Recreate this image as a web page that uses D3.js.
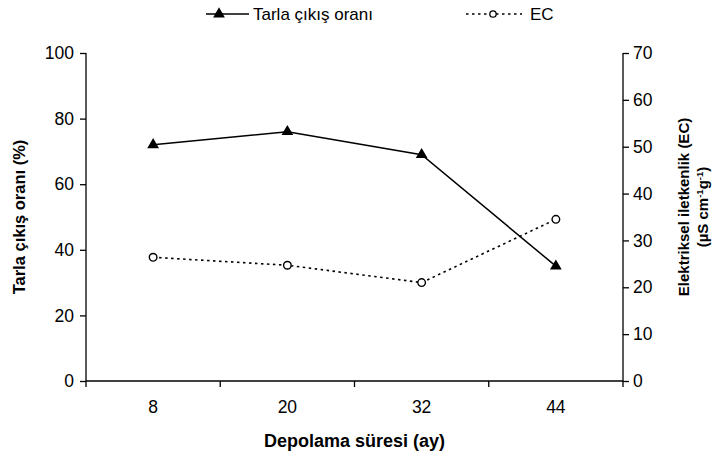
<!DOCTYPE html>
<html>
<head>
<meta charset="utf-8">
<script src="https://cdn.jsdelivr.net/npm/d3@7"></script>
<style>
  body { margin: 0; background: #fff; }
  svg { font-family: "Liberation Sans", Arial, sans-serif; }
  .axis path, .axis line { stroke: #000; stroke-width: 1.3; }
  .axis text { font-size: 17.5px; fill: #000; }
</style>
</head>
<body>
<svg id="chart" width="723" height="462"></svg>
<script>
// Storage time (months) and the two measured series
const categories = ["8", "20", "32", "44"];
const emergence = [72, 76, 69, 35];          // Tarla çıkış oranı (%)
const conductivity = [26.4, 24.7, 21, 34.5]; // EC (µS cm-1 g-1)
const leftTicks = [0, 20, 40, 60, 80, 100];
const rightTicks = [0, 10, 20, 30, 40, 50, 60, 70];

const svg = d3.select("#chart");
const margin = { left: 86, right: 100, top: 53, bottom: 81 };
const W = 723, H = 462;
const x0 = margin.left, x1 = W - margin.right;
const y0 = H - margin.bottom, y1 = margin.top;

const x = d3.scaleBand().domain(categories).range([x0, x1]);
const yL = d3.scaleLinear().domain([0, 100]).range([y0, y1]);
const yR = d3.scaleLinear().domain([0, 70]).range([y0, y1]);

// x axis: tick marks at band boundaries, labels at band centres
const xAxisG = svg.append("g").attr("class", "axis");
xAxisG.append("line").attr("x1", x0).attr("x2", x1).attr("y1", y0).attr("y2", y0)
  .attr("stroke", "#000").attr("stroke-width", 1.3);
const bounds = categories.map(c => x(c)).concat([x1]);
xAxisG.selectAll("line.tk").data(bounds).join("line").attr("class", "tk")
  .attr("x1", d => d).attr("x2", d => d).attr("y1", y0).attr("y2", y0 + 6)
  .attr("stroke", "#000").attr("stroke-width", 1.3);
xAxisG.selectAll("text").data(categories).join("text")
  .attr("x", d => x(d) + x.bandwidth() / 2).attr("y", y0 + 32)
  .attr("text-anchor", "middle").text(d => d);

// left axis
svg.append("g").attr("class", "axis")
  .attr("transform", `translate(${x0},0)`)
  .call(d3.axisLeft(yL).tickValues(leftTicks).tickSize(6).tickPadding(6).tickSizeOuter(0))
  .call(g => g.select(".domain").attr("d", `M0,${y0}V${y1}`));

// right axis
svg.append("g").attr("class", "axis")
  .attr("transform", `translate(${x1},0)`)
  .call(d3.axisRight(yR).tickValues(rightTicks).tickSize(6).tickPadding(4).tickSizeOuter(0))
  .call(g => g.select(".domain").attr("d", `M0,${y0}V${y1}`));

svg.selectAll(".axis text").attr("font-family", "Liberation Sans, Arial, sans-serif");

// axis titles
svg.append("text").attr("x", (x0 + x1) / 2).attr("y", 447)
  .attr("text-anchor", "middle").attr("font-size", 18).attr("font-weight", "bold")
  .text("Depolama süresi (ay)");

svg.append("text").attr("transform", `translate(25,${(y0 + y1) / 2}) rotate(-90)`)
  .attr("text-anchor", "middle").attr("font-size", 16.5).attr("font-weight", "bold")
  .text("Tarla çıkış oranı (%)");

const rt = svg.append("text").attr("transform", `translate(689,${(y0 + y1) / 2 - 10}) rotate(-90)`)
  .attr("text-anchor", "middle").attr("font-size", 15).attr("font-weight", "bold");
rt.append("tspan").attr("x", 0).attr("dy", 0).text("Elektriksel iletkenlik (EC)");
const rt2 = svg.append("text").attr("transform", `translate(708,${(y0 + y1) / 2 - 10}) rotate(-90)`)
  .attr("text-anchor", "middle").attr("font-size", 15).attr("font-weight", "bold");
rt2.append("tspan").text("(µS cm");
rt2.append("tspan").attr("font-size", 9.5).attr("dy", -5).text("-1");
rt2.append("tspan").attr("dy", 5).text("g");
rt2.append("tspan").attr("font-size", 9.5).attr("dy", -5).text("-1");
rt2.append("tspan").attr("dy", 5).text(")");

const cx = (d, i) => x(categories[i]) + x.bandwidth() / 2;
const tri = d3.symbol().type(d3.symbolTriangle).size(60);

// emergence series: solid line with filled triangles
svg.append("path").datum(emergence)
  .attr("d", d3.line().x(cx).y(d => yL(d)))
  .attr("fill", "none").attr("stroke", "#000").attr("stroke-width", 1.5);
svg.selectAll("path.tri").data(emergence).join("path").attr("class", "tri")
  .attr("d", tri).attr("transform", (d, i) => `translate(${cx(d, i)},${yL(d)})`)
  .attr("fill", "#000");

// EC series: dotted line with open circles
svg.append("path").datum(conductivity)
  .attr("d", d3.line().x(cx).y(d => yR(d)))
  .attr("fill", "none").attr("stroke", "#000").attr("stroke-width", 1.6)
  .attr("stroke-dasharray", "2.5,3.5");
svg.selectAll("circle.ec").data(conductivity).join("circle").attr("class", "ec")
  .attr("cx", cx).attr("cy", d => yR(d)).attr("r", 3.8)
  .attr("fill", "#fff").attr("stroke", "#000").attr("stroke-width", 1.4);

// legend
const lg = svg.append("g");
lg.append("line").attr("x1", 206).attr("x2", 249).attr("y1", 14).attr("y2", 14)
  .attr("stroke", "#000").attr("stroke-width", 1.5);
lg.append("path").attr("d", tri).attr("transform", "translate(219,14)").attr("fill", "#000");
lg.append("text").attr("x", 253).attr("y", 20).attr("font-size", 17).text("Tarla çıkış oranı");
lg.append("line").attr("x1", 466).attr("x2", 522).attr("y1", 14).attr("y2", 14)
  .attr("stroke", "#000").attr("stroke-width", 1.6).attr("stroke-dasharray", "2.5,3.5");
lg.append("circle").attr("cx", 493).attr("cy", 14).attr("r", 3.2)
  .attr("fill", "#fff").attr("stroke", "#000").attr("stroke-width", 1.3);
lg.append("text").attr("x", 530).attr("y", 20).attr("font-size", 17).text("EC");
</script>
</body>
</html>
